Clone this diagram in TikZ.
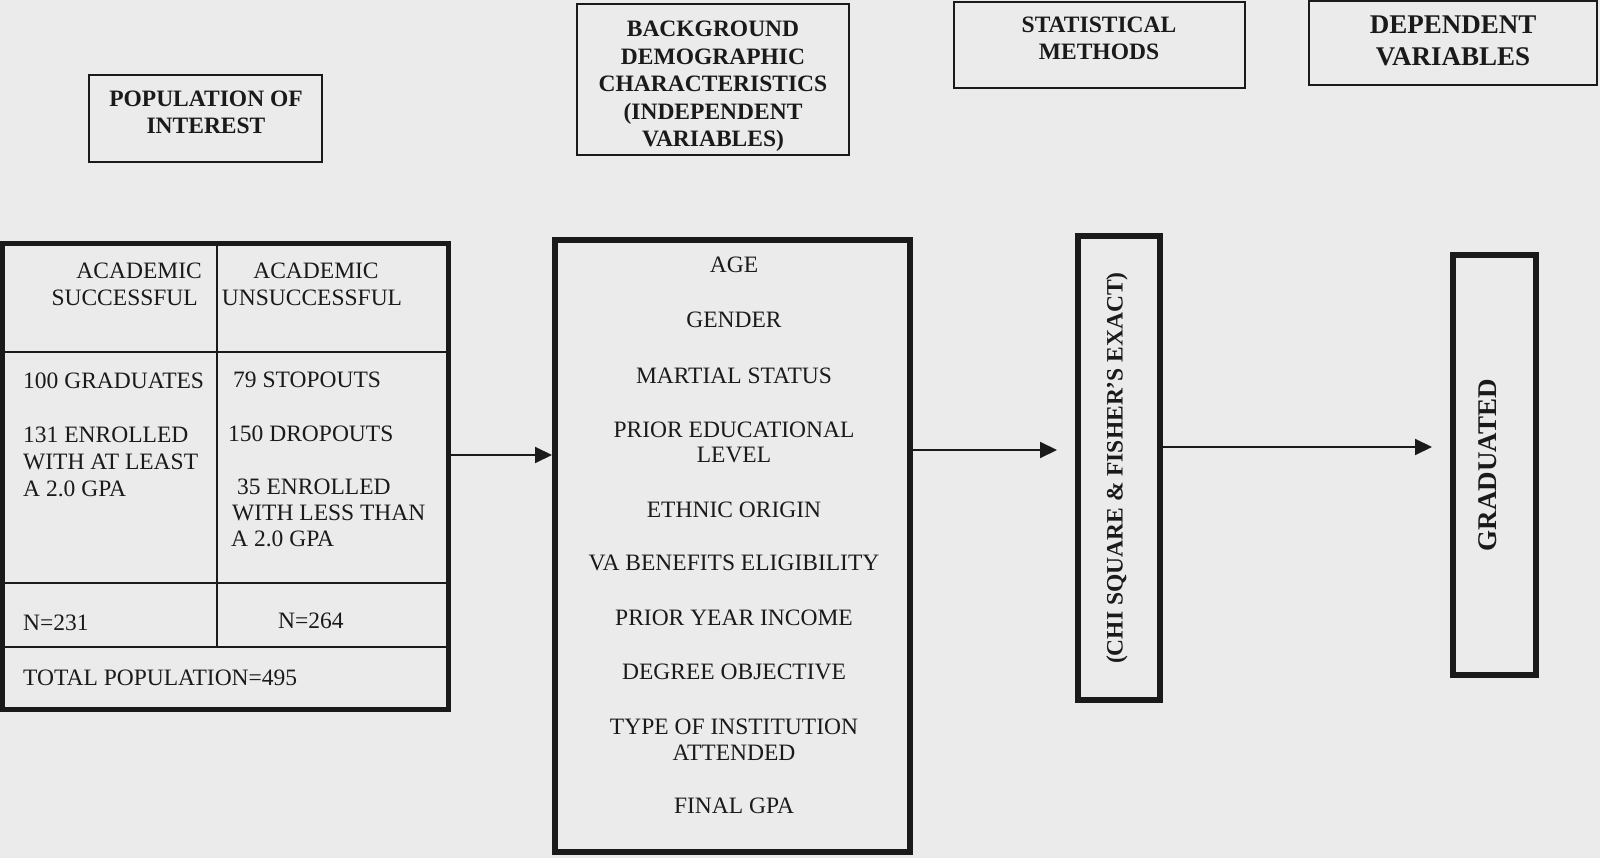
\documentclass[tikz,border=0pt]{standalone}
\usepackage{fontspec}
\setmainfont{Liberation Serif}
\usetikzlibrary{arrows.meta}
\definecolor{paper}{RGB}{235,235,235}
\definecolor{ink}{RGB}{26,26,26}

\begin{document}
\begin{tikzpicture}[x=1pt,y=-1pt,
  txt/.style={inner sep=0pt, text=ink, font=\fontsize{23.5}{26}\selectfont},
  hdr/.style={inner sep=0pt, text=ink, font=\bfseries\fontsize{23.5}{27}\selectfont},
  bighdr/.style={inner sep=0pt, text=ink, font=\bfseries\fontsize{27}{32}\selectfont},
  titlebox/.style={draw=ink, line width=2pt, inner sep=0pt},
  heavybox/.style={draw=ink, line width=6pt, inner sep=0pt},
  rule/.style={draw=ink, line width=2pt},
  flow/.style={draw=ink, line width=2pt, -{Triangle[length=17pt,width=16pt]}},
]
\fill[paper] (0,0) rectangle (1600,858);
\useasboundingbox (0,0) rectangle (1600,858);

% ---------- column titles ----------
\node[titlebox, minimum width=233pt, minimum height=87pt] (popbox) at (205.5,118.5) {};
\node[hdr, anchor=base] (pop1) at (206,107) {POPULATION OF};
\node[hdr, anchor=base] (pop2) at (206,134) {INTEREST};

\node[titlebox, minimum width=272pt, minimum height=151pt] (bgbox) at (713,79.5) {};
\node[hdr, anchor=base] (bg1) at (713,37) {BACKGROUND};
\node[hdr, anchor=base] (bg2) at (713,64.5) {DEMOGRAPHIC};
\node[hdr, anchor=base] (bg3) at (713,92) {CHARACTERISTICS};
\node[hdr, anchor=base] (bg4) at (713,119.5) {(INDEPENDENT};
\node[hdr, anchor=base] (bg5) at (713,147) {VARIABLES)};

\node[titlebox, minimum width=291pt, minimum height=86pt] (statbox) at (1099,45) {};
\node[hdr, anchor=base] (st1) at (1099,33) {STATISTICAL};
\node[hdr, anchor=base] (st2) at (1099,60) {METHODS};

\node[titlebox, minimum width=288pt, minimum height=84pt] (depbox) at (1453,43) {};
\node[bighdr, anchor=base] (dp1) at (1453,34) {DEPENDENT};
\node[bighdr, anchor=base] (dp2) at (1453,66) {VARIABLES};

% ---------- population table ----------
\node[draw=ink, line width=5pt, inner sep=0pt, minimum width=446pt, minimum height=465pt] (tbl) at (225,476.5) {};
\draw[rule] (217,244) -- (217,647);
\draw[rule] (2,352) -- (448,352);
\draw[rule] (2,583) -- (448,583);
\draw[rule] (2,647) -- (448,647);

\node[txt, anchor=base east] (h1a) at (202,279) {ACADEMIC};
\node[txt, anchor=base east] (h1b) at (198,306) {SUCCESSFUL};
\node[txt, anchor=base] (h2a) at (316,279) {ACADEMIC};
\node[txt, anchor=base] (h2b) at (312,306) {UNSUCCESSFUL};

\node[txt, anchor=base west] (s1) at (23,388) {100 GRADUATES};
\node[txt, anchor=base west] (s2) at (23,442) {131 ENROLLED};
\node[txt, anchor=base west] (s3) at (23,469) {WITH AT LEAST};
\node[txt, anchor=base west] (s4) at (23,496) {A 2.0 GPA};

\node[txt, anchor=base west] (u1) at (233,387) {79 STOPOUTS};
\node[txt, anchor=base west] (u2) at (228,441) {150 DROPOUTS};
\node[txt, anchor=base west] (u3) at (237,494) {35 ENROLLED};
\node[txt, anchor=base west] (u4) at (232,520) {WITH LESS THAN};
\node[txt, anchor=base west] (u5) at (231,546) {A 2.0 GPA};

\node[txt, anchor=base west] (n1) at (23,630) {N=231};
\node[txt, anchor=base west] (n2) at (278,628) {N=264};
\node[txt, anchor=base west] (tot) at (23,685) {TOTAL POPULATION=495};

% ---------- independent variables ----------
\node[heavybox, minimum width=355pt, minimum height=612pt] (mid) at (732.5,546) {};
\node[txt, anchor=base] (v1) at (734,273) {AGE};
\node[txt, anchor=base] (v2) at (734,328) {GENDER};
\node[txt, anchor=base] (v3) at (734,383) {MARTIAL STATUS};
\node[txt, anchor=base] (v4a) at (734,437) {PRIOR EDUCATIONAL};
\node[txt, anchor=base] (v4b) at (734,462) {LEVEL};
\node[txt, anchor=base] (v5) at (734,517) {ETHNIC ORIGIN};
\node[txt, anchor=base] (v6) at (734,570) {VA BENEFITS ELIGIBILITY};
\node[txt, anchor=base] (v7) at (734,625) {PRIOR YEAR INCOME};
\node[txt, anchor=base] (v8) at (734,679) {DEGREE OBJECTIVE};
\node[txt, anchor=base] (v9a) at (734,734) {TYPE OF INSTITUTION};
\node[txt, anchor=base] (v9b) at (734,760) {ATTENDED};
\node[txt, anchor=base] (v10) at (734,813) {FINAL GPA};

% ---------- statistical method and outcome ----------
\node[heavybox, minimum width=82pt, minimum height=464pt] (chi) at (1119,468) {};
\node[hdr, rotate=90] (chitxt) at (1117,468) {(CHI SQUARE \& FISHER’S EXACT)};

\node[heavybox, minimum width=83pt, minimum height=420pt] (grad) at (1494.5,465) {};
\node[bighdr, rotate=90] (gradtxt) at (1487.5,465) {GRADUATED};

% ---------- flow arrows ----------
\draw[flow] (tbl.east |- 0,455) -- (mid.west |- 0,455);
\draw[flow] (mid.east |- 0,450) -- ([xshift=-18pt]chi.west |- 0,450);
\draw[flow] (chi.east |- 0,447) -- ([xshift=-18pt]grad.west |- 0,447);
\end{tikzpicture}
\end{document}
